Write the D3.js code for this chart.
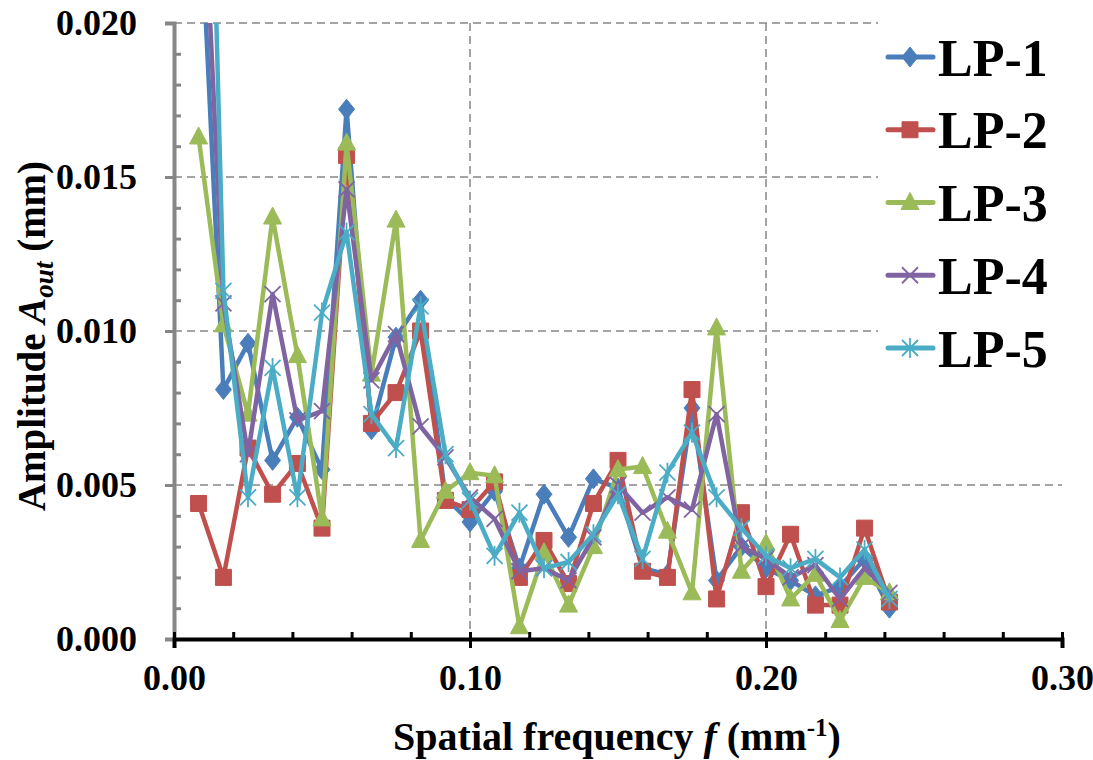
<!DOCTYPE html>
<html>
<head>
<meta charset="utf-8">
<script src="https://cdn.jsdelivr.net/npm/d3@7"></script>
<style>
    body { margin: 0; background: #fff; }
    svg text { font-family: "Liberation Serif", "Times New Roman", serif; font-weight: bold; fill: #000; }
</style>
</head>
<body>
<svg id="chart" width="1093" height="760"></svg>
<script>
// spatial frequency (mm^-1)
var freq = [0.0083, 0.0167, 0.025, 0.0333, 0.0417, 0.05, 0.0583, 0.0667, 0.075, 0.0833,
    0.0917, 0.1, 0.1083, 0.1167, 0.125, 0.1333, 0.1417, 0.15, 0.1583, 0.1667,
    0.175, 0.1833, 0.1917, 0.2, 0.2083, 0.2167, 0.225, 0.2333, 0.2417];

var lp1 = [0.025, 0.0081, 0.0096, 0.0058, 0.0072, 0.0055, 0.0172, 0.0068, 0.0098, 0.0110,
    0.0046, 0.0038, 0.0048, 0.0023, 0.0047, 0.0033, 0.0052, 0.0049, 0.0023, 0.0021,
    0.0075, 0.0019, 0.0030, 0.0023, 0.0019, 0.0014, 0.0017, 0.0026, 0.0010];
var lp2 = [0.0044, 0.0020, 0.0062, 0.0047, 0.0057, 0.0036, 0.0157, 0.0070, 0.0080, 0.0100,
    0.0045, 0.0042, 0.0051, 0.0020, 0.0032, 0.0018, 0.0044, 0.0058, 0.0022, 0.0020,
    0.0081, 0.0013, 0.0041, 0.0017, 0.0034, 0.0011, 0.0011, 0.0036, 0.0012];
var lp3 = [0.0163, 0.0102, 0.0073, 0.0137, 0.0092, 0.0039, 0.0161, 0.0086, 0.0136, 0.0032,
    0.0048, 0.0054, 0.0053, 0.0004, 0.0028, 0.0011, 0.0030, 0.0055, 0.0056, 0.0035,
    0.0015, 0.0101, 0.0022, 0.0031, 0.0013, 0.0021, 0.0006, 0.0020, 0.0015];
var lp4 = [0.028, 0.0109, 0.0060, 0.0112, 0.0071, 0.0074, 0.0146, 0.0084, 0.0099, 0.0069,
    0.0059, 0.0046, 0.0039, 0.0022, 0.0023, 0.0019, 0.0033, 0.0050, 0.0041, 0.0046,
    0.0042, 0.0073, 0.0030, 0.0026, 0.0020, 0.0024, 0.0013, 0.0023, 0.0015];
var lp5 = [0.042, 0.0113, 0.0046, 0.0088, 0.0046, 0.0106, 0.0132, 0.0073, 0.0062, 0.0108,
    0.0060, 0.0045, 0.0027, 0.0041, 0.0023, 0.0025, 0.0034, 0.0047, 0.0026, 0.0054,
    0.0067, 0.0046, 0.0036, 0.0027, 0.0023, 0.0026, 0.0020, 0.0029, 0.0013];

var seriesNames = ["LP-1", "LP-2", "LP-3", "LP-4", "LP-5"];
var seriesColors = ["#4a7ebb", "#c0504d", "#9bbb59", "#8064a2", "#4bacc6"];
var seriesMarkers = ["diamond", "square", "triangle", "x", "star"];

var xTicks = [0, 0.10, 0.20, 0.30];
var xMinor = [0.02, 0.04, 0.06, 0.08, 0.12, 0.14, 0.16, 0.18, 0.22, 0.24, 0.26, 0.28];
var yTicks = [0, 0.005, 0.010, 0.015, 0.020];
var yMinor = [0.001, 0.002, 0.003, 0.004, 0.006, 0.007, 0.008, 0.009,
    0.011, 0.012, 0.013, 0.014, 0.016, 0.017, 0.018, 0.019];

var series = [lp1, lp2, lp3, lp4, lp5].map(function(vals, i) {
    return {
        name: seriesNames[i],
        color: seriesColors[i],
        marker: seriesMarkers[i],
        points: vals.map(function(v, j) { return { f: freq[j], a: v }; })
    };
});

// plot area edges (note: "top" is reserved on window)
var plotLeft = 174, plotRight = 1062, plotTop = 23, plotBottom = 639;

var svg = d3.select("#chart");

var x = d3.scaleLinear().domain([0, 0.30]).range([plotLeft, plotRight]);
var y = d3.scaleLinear().domain([0, 0.020]).range([plotBottom, plotTop]);

svg.append("defs").append("clipPath")
    .attr("id", "plot-clip")
    .append("rect")
    .attr("x", plotLeft)
    .attr("y", plotTop)
    .attr("width", plotRight - plotLeft)
    .attr("height", plotBottom - plotTop);

// gridlines
svg.append("g").selectAll("line")
    .data(yTicks.slice(1))
    .enter()
    .append("line")
    .attr("x1", plotLeft)
    .attr("x2", plotRight)
    .attr("y1", function(d) { return y(d); })
    .attr("y2", function(d) { return y(d); })
    .attr("stroke", "#868686")
    .attr("stroke-width", 1.5)
    .attr("stroke-dasharray", "8,5");

svg.append("g").selectAll("line")
    .data(xTicks.slice(1, 3))
    .enter()
    .append("line")
    .attr("x1", function(d) { return x(d); })
    .attr("x2", function(d) { return x(d); })
    .attr("y1", plotTop)
    .attr("y2", plotBottom)
    .attr("stroke", "#868686")
    .attr("stroke-width", 1.5)
    .attr("stroke-dasharray", "8,5");

// marker shapes
function markerPath(type) {
    if (type == "diamond") return "M0,-10L8,0L0,10L-8,0Z";
    if (type == "square") return "M-8,-8H8V8H-8Z";
    if (type == "triangle") return "M0,-10L9,7H-9Z";
    if (type == "x") return "M-8,-8L8,8M-8,8L8,-8";
    return "M-8,-8L8,8M-8,8L8,-8M0,-10V10";
}

function drawMarker(sel, s) {
    var filled = s.marker == "diamond" || s.marker == "square" || s.marker == "triangle";
    sel.attr("d", markerPath(s.marker))
        .attr("fill", filled ? s.color : "none")
        .attr("stroke", s.color)
        .attr("stroke-width", filled ? 1 : 1.8);
}

var line = d3.line()
    .x(function(d) { return x(d.f); })
    .y(function(d) { return y(d.a); });

var plot = svg.append("g").attr("clip-path", "url(#plot-clip)");

series.forEach(function(s) {
    var g = plot.append("g");
    g.append("path")
        .datum(s.points)
        .attr("fill", "none")
        .attr("stroke", s.color)
        .attr("stroke-width", 4.5)
        .attr("stroke-linejoin", "round")
        .attr("d", line);

    g.selectAll(".pt")
        .data(s.points)
        .enter()
        .append("path")
        .attr("class", "pt")
        .attr("transform", function(d) { return "translate(" + x(d.f) + "," + y(d.a) + ")"; })
        .call(drawMarker, s);
});

// y axis: major ticks outside, minor ticks inside
var yAxis = svg.append("g")
    .attr("transform", "translate(" + plotLeft + ",0)")
    .call(d3.axisLeft(y).tickValues(yTicks).tickSize(9).tickPadding(28).tickFormat(d3.format(".3f")));
yAxis.select(".domain").attr("stroke", "#868686").attr("stroke-width", 4);
yAxis.selectAll(".tick line").attr("stroke", "#868686").attr("stroke-width", 3);
yAxis.selectAll("text").attr("font-size", 36).attr("font-family", null);

var yMinorAxis = svg.append("g")
    .attr("transform", "translate(" + plotLeft + ",0)")
    .call(d3.axisRight(y).tickValues(yMinor).tickSize(7).tickFormat(""));
yMinorAxis.select(".domain").remove();
yMinorAxis.selectAll(".tick line").attr("stroke", "#868686").attr("stroke-width", 3);

// x axis
var xAxis = svg.append("g")
    .attr("transform", "translate(0," + plotBottom + ")")
    .call(d3.axisBottom(x).tickValues(xTicks).tickSize(9).tickPadding(16).tickFormat(d3.format(".2f")));
xAxis.select(".domain").attr("stroke", "#000").attr("stroke-width", 4);
xAxis.selectAll(".tick line").attr("stroke", "#000").attr("stroke-width", 3);
xAxis.selectAll("text").attr("font-size", 36).attr("font-family", null);

var xInner = svg.append("g")
    .attr("transform", "translate(0," + plotBottom + ")")
    .call(d3.axisTop(x).tickValues(xTicks.concat(xMinor)).tickSize(7).tickFormat(""));
xInner.select(".domain").remove();
xInner.selectAll(".tick line").attr("stroke", "#000").attr("stroke-width", 3);

// axis titles
var yTitle = svg.append("text")
    .attr("transform", "translate(45,336) rotate(-90)")
    .attr("text-anchor", "middle")
    .attr("font-size", 39);
yTitle.append("tspan").text("Amplitude ");
yTitle.append("tspan").attr("font-style", "italic").text("A");
yTitle.append("tspan").attr("font-style", "italic").attr("font-size", 27).attr("dy", 8).text("out");
yTitle.append("tspan").attr("dy", -8).text(" (mm)");

var xTitle = svg.append("text")
    .attr("x", 617)
    .attr("y", 750)
    .attr("text-anchor", "middle")
    .attr("font-size", 40);
xTitle.append("tspan").text("Spatial frequency ");
xTitle.append("tspan").attr("font-style", "italic").text("f");
xTitle.append("tspan").text(" (mm");
xTitle.append("tspan").attr("font-size", 25).attr("dy", -14).text("-1");
xTitle.append("tspan").attr("dy", 14).text(")");

// legend
var legend = svg.append("g");
legend.append("rect")
    .attr("x", 878)
    .attr("y", 0)
    .attr("width", 215)
    .attr("height", 378)
    .attr("fill", "#fff");

var legendY = d3.scalePoint().domain(seriesNames).range([57, 348]);

var items = legend.selectAll(".item")
    .data(series)
    .enter()
    .append("g")
    .attr("class", "item")
    .attr("transform", function(d) { return "translate(0," + legendY(d.name) + ")"; });

items.append("line")
    .attr("x1", 888)
    .attr("x2", 933)
    .attr("stroke", function(d) { return d.color; })
    .attr("stroke-width", 5)
    .attr("stroke-linecap", "round");

items.append("path")
    .attr("transform", "translate(910,0)")
    .each(function(d) { d3.select(this).call(drawMarker, d); });

items.append("text")
    .attr("x", 938)
    .attr("dy", "0.36em")
    .attr("font-size", 52)
    .text(function(d) { return d.name; });
</script>
</body>
</html>
